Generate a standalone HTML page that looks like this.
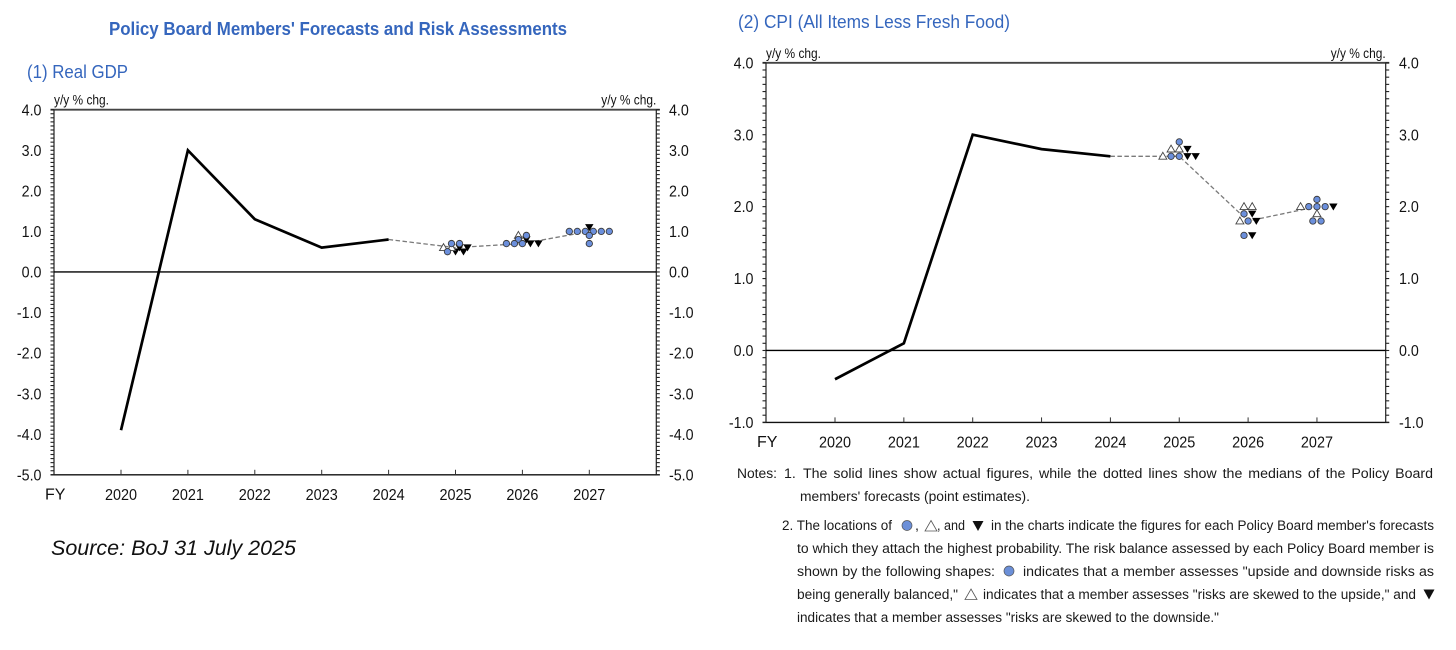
<!DOCTYPE html>
<html lang="en">
<head>
<meta charset="utf-8">
<title>Policy Board Members' Forecasts and Risk Assessments</title>
<style>
html,body{margin:0;padding:0;background:#fff;}
body{width:1456px;height:650px;overflow:hidden;}
svg{display:block;font-family:"Liberation Sans",sans-serif;}
.note{font-size:14.2px;fill:#1a1a1a;}
.head{fill:#3566bd;font-size:18px;}
</style>
</head>
<body>
<svg id="page" xmlns="http://www.w3.org/2000/svg" width="1456" height="650" viewBox="0 0 1456 650">
  <rect width="1456" height="650" fill="#fff"/>
  <text class="head" x="109" y="35" font-weight="700" textLength="458" lengthAdjust="spacingAndGlyphs" fill="#2f62b8">Policy Board Members' Forecasts and Risk Assessments</text>
  <text class="head" x="27" y="78" textLength="101" lengthAdjust="spacingAndGlyphs">(1) Real GDP</text>
  <text class="head" x="738" y="28" textLength="272" lengthAdjust="spacingAndGlyphs">(2) CPI (All Items Less Fresh Food)</text>
  <text x="51" y="555" font-size="21.5" font-style="italic" fill="#111" textLength="245" lengthAdjust="spacingAndGlyphs">Source: BoJ 31 July 2025</text>

  <g id="gdp-chart"></g>
  <g id="cpi-chart"></g>

  <g id="notes">
    <text class="note squeeze" x="737" y="478" data-end="777">Notes:</text>
    <text class="note" x="784" y="478">1.</text>
    <text class="note fit" x="803" y="478" data-end="1433">The solid lines show actual figures, while the dotted lines show the medians of the Policy Board</text>
    <text class="note fit" x="800" y="501" data-end="1030">members' forecasts (point estimates).</text>

    <text class="note fit" x="782" y="530" data-end="892">2. The locations of</text>
    <circle cx="907" cy="525.5" r="5" fill="#6b8fd8" stroke="#555" stroke-width=".7"/>
    <text class="note" x="915" y="530">,</text>
    <polygon points="931,520.5 937,531 925,531" fill="#fff" stroke="#555" stroke-width=".8"/>
    <text class="note fit" x="937" y="530" data-end="965">, and</text>
    <polygon points="972.5,521 983.5,521 978,531" fill="#111"/>
    <text class="note fit" x="991" y="530" data-end="1434">in the charts indicate the figures for each Policy Board member's forecasts</text>

    <text class="note fit" x="797" y="553" data-end="1434">to which they attach the highest probability. The risk balance assessed by each Policy Board member is</text>

    <text class="note fit" x="797" y="576" data-end="995">shown by the following shapes:</text>
    <circle cx="1009" cy="571" r="5" fill="#6b8fd8" stroke="#555" stroke-width=".7"/>
    <text class="note fit" x="1023" y="576" data-end="1434">indicates that a member assesses "upside and downside risks as</text>

    <text class="note fit" x="797" y="599" data-end="958">being generally balanced,"</text>
    <polygon points="971,589 977,599.5 965,599.5" fill="#fff" stroke="#555" stroke-width=".8"/>
    <text class="note fit" x="983" y="599" data-end="1416">indicates that a member assesses "risks are skewed to the upside," and</text>
    <polygon points="1423.5,589.5 1434.5,589.5 1429,599.5" fill="#111"/>

    <text class="note fit" x="797" y="622" data-end="1219">indicates that a member assesses "risks are skewed to the downside."</text>
  </g>
</svg>
<script>
var years = ['2020','2021','2022','2023','2024','2025','2026','2027'];
var actualYears = [2020,2021,2022,2023,2024];
var forecastYears = [2025,2026,2027];

var gdpActual = [-3.9,3.0,1.3,0.6,0.8];
var gdpMedian = [0.8,0.6,0.7,1.0];
var gdpTicks = [4,3,2,1,0,-1,-2,-3,-4,-5];
var gdpCircles = [[0.7,0.7,0.5],[0.9,0.8,0.7,0.7,0.7],[1.0,1.0,1.0,1.0,1.0,1.0,0.9,0.7]];
var gdpUp = [[0.6,0.6],[0.9],[]];
var gdpDown = [[0.6,0.6,0.5,0.5],[0.8,0.7,0.7],[1.1]];

var cpiActual = [-0.4,0.1,3.0,2.8,2.7];
var cpiMedian = [2.7,2.7,1.8,2.0];
var cpiTicks = [4,3,2,1,0,-1];
var cpiCircles = [[2.9,2.7,2.7],[1.9,1.8,1.6],[2.1,2.0,2.0,2.0,1.8,1.8]];
var cpiUp = [[2.8,2.8,2.7],[2.0,2.0,1.8],[2.0,1.9]];
var cpiDown = [[2.8,2.7,2.7],[1.9,1.8,1.6],[2.0]];

var NS = 'http://www.w3.org/2000/svg';

function shape(parent, tag, attrs) {
  var el = document.createElementNS(NS, tag);
  for (var k in attrs) el.setAttribute(k, attrs[k]);
  parent.appendChild(el);
  return el;
}

// narrow a label horizontally to match the condensed look of the reference
function condense(el, factor) {
  el.setAttribute('textLength', el.getComputedTextLength() * factor);
  el.setAttribute('lengthAdjust', 'spacingAndGlyphs');
}

function drawChart(cfg) {
  var g = document.getElementById(cfg.id);
  var prefix = cfg.prefix;
  var el;

  function xOf(year) {
    return cfg.x2020 + (year - 2020) * cfg.xStep;
  }
  function yOf(v) {
    return cfg.top + (cfg.yMax - v) * (cfg.bottom - cfg.top) / (cfg.yMax - cfg.yMin);
  }

  // frame
  el = shape(g, 'line', {x1: cfg.left - 3.5, x2: cfg.right + 3.5, y1: cfg.top, y2: cfg.top, stroke: '#444', 'stroke-width': 1.8});
  
  
  el = shape(g, 'line', {x1: cfg.left - 3.5, x2: cfg.right + 3.5, y1: cfg.bottom, y2: cfg.bottom, stroke: '#111', 'stroke-width': 1.4});
  
  
  el = shape(g, 'line', {x1: cfg.left, x2: cfg.left, y1: cfg.top, y2: cfg.bottom, stroke: '#222', 'stroke-width': 1.2});
  
  
  el = shape(g, 'line', {x1: cfg.right, x2: cfg.right, y1: cfg.top, y2: cfg.bottom, stroke: '#222', 'stroke-width': 1.2});
  
  

  // y minor ticks every 0.1
  var steps = Math.round((cfg.yMax - cfg.yMin) * 10);
  for (var i = 0; i <= steps; i++) {
    var ty = yOf(cfg.yMin + i / 10);
    el = shape(g, 'line', {x1: cfg.left - 3.5, x2: cfg.left, y1: ty, y2: ty, stroke: '#222', 'stroke-width': cfg.tickWidth});
    
    
    el = shape(g, 'line', {x1: cfg.right, x2: cfg.right + 3.5, y1: ty, y2: ty, stroke: '#222', 'stroke-width': cfg.tickWidth});
    
    
  }

  // y labels
  cfg.ticks.forEach(function (t) {
    var label = t.toFixed(1);
    el = shape(g, 'text', {x: cfg.leftLabelX, y: yOf(t) + 5.6, 'text-anchor': 'end', 'font-size': 15.5, fill: '#111'});
    el.textContent = label;
    
    
    condense(el, 0.92);
    el = shape(g, 'text', {x: cfg.rightLabelX, y: yOf(t) + 5.6, 'font-size': 15.5, fill: '#111'});
    el.textContent = label;
    
    
    condense(el, 0.92);
  });

  // y-axis unit labels
  el = shape(g, 'text', {x: cfg.left, y: cfg.top - 5, 'font-size': 13.5, fill: '#111', textLength: 55, lengthAdjust: 'spacingAndGlyphs'});
  el.textContent = 'y/y % chg.';
  
  
  el = shape(g, 'text', {x: cfg.right - 55, y: cfg.top - 5, 'font-size': 13.5, fill: '#111', textLength: 55, lengthAdjust: 'spacingAndGlyphs'});
  el.textContent = 'y/y % chg.';
  
  

  // x ticks + labels
  years.forEach(function (y) {
    var px = xOf(Number(y));
    el = shape(g, 'line', {x1: px, x2: px, y1: cfg.bottom - 5, y2: cfg.bottom, stroke: '#333', 'stroke-width': 1});
    
    
    el = shape(g, 'text', {x: px, y: cfg.bottom + 25, 'text-anchor': 'middle', 'font-size': 15.5, fill: '#111'});
    el.textContent = y;
    
    
    condense(el, 0.93);
  });
  el = shape(g, 'text', {x: cfg.fyX, y: cfg.bottom + 24.5, 'font-size': 16, fill: '#111'});
  el.textContent = 'FY';
  
  

  // zero line
  el = shape(g, 'line', {x1: cfg.left, x2: cfg.right, y1: yOf(0), y2: yOf(0), stroke: '#000', 'stroke-width': 1.4});
  
  

  // median dashed line
  var medianYears = [actualYears[actualYears.length - 1]].concat(forecastYears);
  var medianPts = cfg.median.map(function (v, i) { return xOf(medianYears[i]) + ',' + yOf(v); }).join(' ');
  el = shape(g, 'polyline', {points: medianPts, fill: 'none', stroke: '#7a7a7a', 'stroke-width': 1.3, 'stroke-dasharray': '4.5 2.5'});
  
  

  // actual line
  var actualPts = cfg.actual.map(function (v, i) { return xOf(actualYears[i]) + ',' + yOf(v); }).join(' ');
  el = shape(g, 'polyline', {points: actualPts, fill: 'none', stroke: '#000', 'stroke-width': 2.7, 'stroke-linejoin': 'miter'});
  
  

  // member forecast markers: rows at each value, centred on the year tick
  forecastYears.forEach(function (year, yi) {
    var rows = {};
    function add(list, type) {
      list[yi].forEach(function (v) {
        var key = v.toFixed(1);
        (rows[key] = rows[key] || []).push(type);
      });
    }
    add(cfg.up, 0);
    add(cfg.circles, 1);
    add(cfg.down, 2);
    var placed = [];
    Object.keys(rows).forEach(function (key) {
      var row = rows[key];
      row.sort(function (a, b) { return a - b; });
      row.forEach(function (type, idx) {
        placed.push({type: type, v: Number(key), x: xOf(year) + (idx - (row.length - 1) / 2) * cfg.slot});
      });
    });
    [2, 0, 1].forEach(function (type) {
      placed.filter(function (m) { return m.type === type; }).forEach(function (m) {
        var cy = yOf(m.v);
        var mark;
        if (type === 1) {
          mark = shape(g, 'circle', {cx: m.x, cy: cy, r: 3.2, fill: '#6b8fdc', stroke: '#3c3c3c', 'stroke-width': 0.9});
          
        } else if (type === 0) {
          mark = shape(g, 'polygon', {points: (m.x) + ',' + (cy - 4) + ' ' + (m.x + 4) + ',' + (cy + 2.9) + ' ' + (m.x - 4) + ',' + (cy + 2.9), fill: '#fff', stroke: '#444', 'stroke-width': 0.9});
          
        } else {
          mark = shape(g, 'polygon', {points: (m.x - 4.2) + ',' + (cy - 3.2) + ' ' + (m.x + 4.2) + ',' + (cy - 3.2) + ' ' + (m.x) + ',' + (cy + 3.8), fill: '#000'});
          
        }
        
      });
    });
  });
}

drawChart({
  id: 'gdp-chart', prefix: 'gdp',
  left: 54, right: 656.3, top: 109.7, bottom: 474.8,
  yMax: 4, yMin: -5, x2020: 121, xStep: 66.9,
  leftLabelX: 41.5, rightLabelX: 669, fyX: 45, slot: 8, tickWidth: 1.1,
  ticks: gdpTicks, actual: gdpActual, median: gdpMedian,
  circles: gdpCircles, up: gdpUp, down: gdpDown
});
drawChart({
  id: 'cpi-chart', prefix: 'cpi',
  left: 766, right: 1385.7, top: 62.8, bottom: 422.4,
  yMax: 4, yMin: -1, x2020: 835, xStep: 68.85,
  leftLabelX: 753.5, rightLabelX: 1399, fyX: 757, slot: 8.2, tickWidth: 1.1,
  ticks: cpiTicks, actual: cpiActual, median: cpiMedian,
  circles: cpiCircles, up: cpiUp, down: cpiDown
});

// fit note lines to their measured widths: widen with word spacing, narrow the glyphs when too long
Array.prototype.forEach.call(document.querySelectorAll('text.fit'), function (t) {
  var target = Number(t.getAttribute('data-end')) - Number(t.getAttribute('x'));
  var natural = t.getComputedTextLength();
  var spaces = (t.textContent.match(/ /g) || []).length;
  if (natural > target) {
    t.setAttribute('textLength', target);
    t.setAttribute('lengthAdjust', 'spacingAndGlyphs');
  } else if (spaces > 0) {
    t.style.wordSpacing = ((target - natural) / spaces) + 'px';
  }
});
Array.prototype.forEach.call(document.querySelectorAll('text.squeeze'), function (t) {
  t.setAttribute('textLength', Number(t.getAttribute('data-end')) - Number(t.getAttribute('x')));
  t.setAttribute('lengthAdjust', 'spacingAndGlyphs');
});
</script>
</body>
</html>
